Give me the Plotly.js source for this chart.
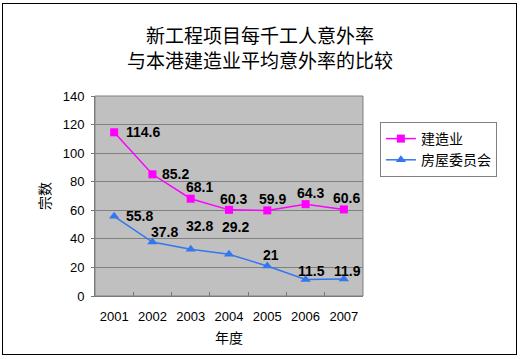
<!DOCTYPE html>
<html><head><meta charset="utf-8">
<script src="https://cdn.plot.ly/plotly-3.0.1.min.js"></script>
<style>body{margin:0;padding:0;background:#fff}#frame{position:absolute;left:2px;top:3px;width:513px;height:350px;border:1px solid #000;pointer-events:none}</style>
</head><body>
<div id="chart" style="width:520px;height:359px;"></div>
<div id="frame"></div>
<script>
const years = ['2001','2002','2003','2004','2005','2006','2007'];
const construction = [114.6, 85.2, 68.1, 60.3, 59.9, 64.3, 60.6];
const housing = [55.8, 37.8, 32.8, 29.2, 21, 11.5, 11.9];
const seriesNames = ['建造业','房屋委员会'];

// label placement (style only): [xanchor, xshift, yshift]
const constructionLabelStyle = [['left',10,0],['left',8,0],['center',9,12],['center',4,11],['center',5,11],['center',5,11],['center',3,11]];
const housingLabelStyle = [['left',10,0],['center',12,10],['center',9,23],['center',6,27],['center',4,11],['center',6,9],['center',4,8]];

const font = 'Arial, "Liberation Sans", "Noto Sans CJK SC", sans-serif';
const cjk = '"Noto Sans CJK SC", sans-serif';
const data = [
  {x: years, y: construction, name: seriesNames[0], mode: 'lines+markers',
   line: {color: '#ff00ff', width: 1.5}, marker: {symbol: 'square', size: 8, color: '#ff00ff'}, cliponaxis: false},
  {x: years, y: housing, name: seriesNames[1], mode: 'lines+markers',
   line: {color: '#3377ee', width: 1.5}, marker: {symbol: 'triangle-up', size: 9, color: '#3377ee'}, cliponaxis: false}
];
const annotations = [];
function addLabels(vals, styles) {
  vals.forEach((v, i) => {
    const s = styles[i];
    annotations.push({x: i, y: v, xref: 'x', yref: 'y', text: '<b>' + String(v) + '</b>', showarrow: false,
      xanchor: s[0], yanchor: 'middle', xshift: s[1], yshift: s[2],
      font: {family: font, size: 14, color: '#000'}});
  });
}
addLabels(construction, constructionLabelStyle);
addLabels(housing, housingLabelStyle);

const layout = {
  width: 520, height: 359,
  margin: {l: 95, r: 157, t: 96, b: 63},
  paper_bgcolor: '#fff', plot_bgcolor: '#c0c0c0',
  font: {family: font, size: 13, color: '#000'},
  title: {text: '新工程项目每千工人意外率<br>与本港建造业平均意外率的比较', x: 0.5, xanchor: 'center', y: 0.88, yanchor: 'top',
          font: {family: cjk, size: 19, color: '#000'}},
  xaxis: {type: 'category', range: [-0.5, 6.5], tickson: 'boundaries', ticks: 'inside', ticklen: 4, tickcolor: '#777',
          ticklabelstandoff: 8,
          showgrid: false, showline: true, linecolor: '#777', linewidth: 1,
          tickfont: {size: 13}, title: {text: '年度', font: {family: cjk, size: 14}, standoff: 10}},
  yaxis: {range: [0, 140], dtick: 20, showgrid: true, gridcolor: '#808080', gridwidth: 1, zeroline: false,
          showline: true, linecolor: '#777', ticks: 'outside', ticklen: 3, tickcolor: '#777',
          ticklabelstandoff: 4,
          tickfont: {size: 13}, title: {text: '宗数', font: {family: cjk, size: 14}, standoff: 8}},
  legend: {x: 1.063, y: 0.87, xanchor: 'left', yanchor: 'top', bgcolor: '#fff', bordercolor: '#808080', borderwidth: 1,
           font: {family: cjk, size: 14}, tracegroupgap: 0, itemwidth: 30},
  shapes: [{type: 'rect', xref: 'paper', yref: 'paper', x0: 0, x1: 1, y0: 0, y1: 1, line: {color: '#808080', width: 1}}],
  annotations: annotations,
  showlegend: true
};
Plotly.newPlot('chart', data, layout, {displayModeBar: false, staticPlot: true});
</script>
</body></html>
